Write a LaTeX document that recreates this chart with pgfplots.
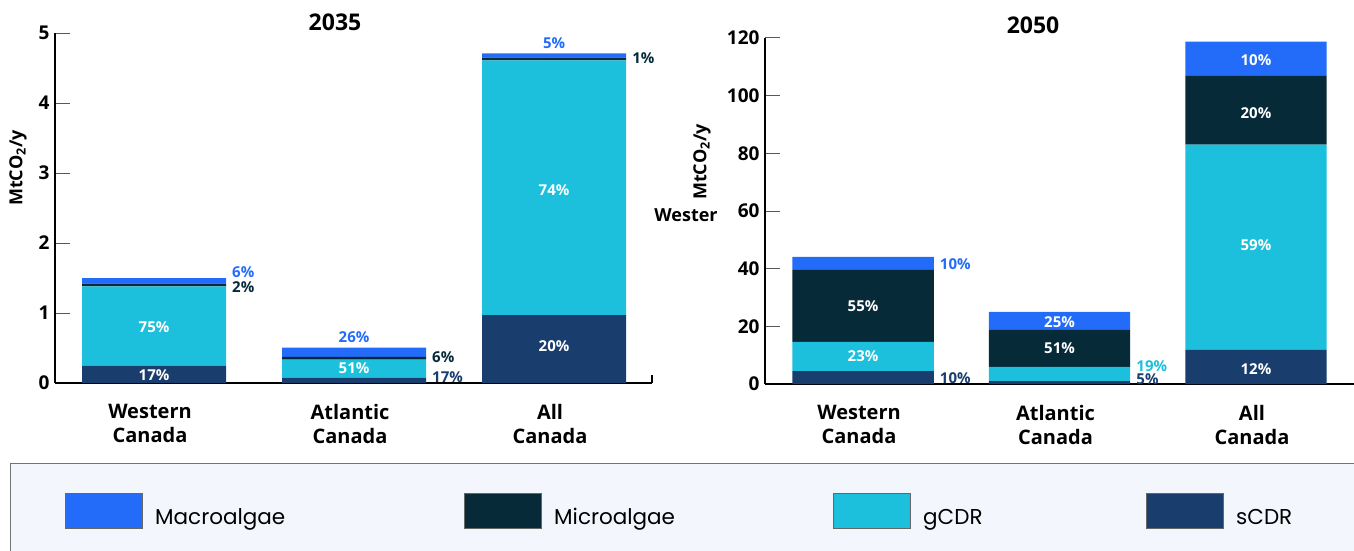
\documentclass[border=0pt]{standalone}
\usepackage{fontspec}
\setmainfont{Open Sans}
\newfontfamily\poppins{Poppins}
\usepackage{pgfplots}
\usepackage{pgfplotstable}
\pgfplotsset{compat=1.18}
\definecolor{macro}{HTML}{236CF9}
\definecolor{micro}{HTML}{062A38}
\definecolor{gcdr}{HTML}{1CBFDC}
\definecolor{scdr}{HTML}{193E6E}
\definecolor{legbg}{HTML}{F3F7FD}

\pgfplotstableread{
x s g mi ma
0 0.25 1.13 0.04 0.08
1 0.076 0.257 0.042 0.129
2 0.97 3.64 0.04 0.06
}\lefttab
\pgfplotstableread{
x s g mi ma
0 4.5 10.1 25.0 4.5
1 1.0 4.9 12.85 6.25
2 11.8 71.2 23.9 11.8
}\righttab

\pgfplotsset{
  mystyle/.style={
    scale only axis, ybar stacked, bar width=0.72,
    axis lines=left, axis line style={-, line width=1.2pt, black},
    ymin=0, clip=false,
    xtick={0,1,2},
    xticklabels={{Western\\Canada},{Atlantic\\Canada},{All\\Canada}},
    x tick style={draw=none},
    y tick style={line width=1pt, black!65},
    tick align=inside, major tick length=15pt,
    /pgf/number format/assume math mode=true,
    yticklabel style={font=\bfseries\fontsize{19}{19}\selectfont, xshift=-2pt},
    xticklabel style={font=\bfseries\fontsize{20}{24}\selectfont, align=center, yshift=-18pt, xshift=-4pt},
  },
}
\tikzset{
  inl/.style={font=\bfseries\fontsize{15}{15}\selectfont, text=white},
  outl/.style={font=\bfseries\fontsize{15}{15}\selectfont, anchor=west, inner sep=1pt, xshift=5pt},
  topl/.style={font=\bfseries\fontsize{15}{15}\selectfont, text=macro},
}

\begin{document}
\begin{tikzpicture}
\useasboundingbox (0,0) rectangle (1354pt,550pt);

% Legend box
\draw[draw=black!55, fill=legbg, line width=1pt] (10pt,-5pt) rectangle (1365pt,87pt);
\foreach \xa/\col/\lab in {65/macro/Macroalgae, 464/micro/Microalgae, 833/gcdr/gCDR, 1146/scdr/sCDR}{
  \draw[fill=\col, draw=black!60, line width=0.8pt] (\xa pt,22pt) rectangle ++(77pt,35pt);
  \node[anchor=base west, inner sep=0pt, font=\poppins\fontsize{21.5}{21.5}\selectfont] at (\xa pt+90pt,26pt) {\lab};
}

% Left chart 2035
\begin{axis}[mystyle, at={(55pt,167pt)}, anchor=south west,
  width=597pt, height=350pt, xmin=-0.495, xmax=2.49, ymax=5, ytick={0,1,2,3,4,5}]
\addplot[fill=scdr, draw=none] table[x=x,y=s]{\lefttab};
\addplot[fill=gcdr, draw=none] table[x=x,y=g]{\lefttab};
\addplot[fill=micro, draw=none] table[x=x,y=mi]{\lefttab};
\addplot[fill=macro, draw=none] table[x=x,y=ma]{\lefttab};
\coordinate (Lend) at (axis cs:2.49,0);
\coordinate (La1) at (axis cs:0,0.11);
\coordinate (La2) at (axis cs:0,0.80);
\coordinate (La3) at (axis cs:0.36,1.59);
\coordinate (La4) at (axis cs:0.36,1.37);
\coordinate (Lb1) at (axis cs:1,0.21);
\coordinate (Lb2) at (axis cs:1.36,0.08);
\coordinate (Lb3) at (axis cs:1.36,0.37);
\coordinate (Lb4) at (axis cs:1,0.66);
\coordinate (Lc1) at (axis cs:2,0.53);
\coordinate (Lc2) at (axis cs:2,2.76);
\coordinate (Lc3) at (axis cs:2.36,4.64);
\coordinate (Lc4) at (axis cs:2,4.86);
\end{axis}
\draw[line width=1.2pt] (Lend) -- ++(0,8pt);
\node[inl] at (La1) {17\%};
\node[inl] at (La2) {75\%};
\node[outl, text=macro] at (La3) {6\%};
\node[outl, text=micro] at (La4) {2\%};
\node[inl] at (Lb1) {51\%};
\node[outl, text=scdr] at (Lb2) {17\%};
\node[outl, text=micro] at (Lb3) {6\%};
\node[topl] at (Lb4) {26\%};
\node[inl] at (Lc1) {20\%};
\node[inl] at (Lc2) {74\%};
\node[outl, text=micro] at (Lc3) {1\%};
\node[topl] at (Lc4) {5\%};
\node[font=\bfseries\fontsize{23}{23}\selectfont] at (335pt,528pt) {2035};
\node[rotate=90, font=\bfseries\fontsize{18}{18}\selectfont] at (18pt,382pt) {MtCO\textsubscript{2}/y};

% Right chart 2050
\begin{axis}[mystyle, at={(765pt,166pt)}, anchor=south west,
  width=589pt, height=346pt, xmin=-0.499, xmax=2.499, ymax=120, ytick={0,20,...,120}]
\addplot[fill=scdr, draw=none] table[x=x,y=s]{\righttab};
\addplot[fill=gcdr, draw=none] table[x=x,y=g]{\righttab};
\addplot[fill=micro, draw=none] table[x=x,y=mi]{\righttab};
\addplot[fill=macro, draw=none] table[x=x,y=ma]{\righttab};
\coordinate (Ra1) at (axis cs:0,9.7);
\coordinate (Ra2) at (axis cs:0,27.0);
\coordinate (Ra3) at (axis cs:0.36,41.6);
\coordinate (Ra4) at (axis cs:0.36,2.1);
\coordinate (Rb1) at (axis cs:1,12.5);
\coordinate (Rb2) at (axis cs:1,21.5);
\coordinate (Rb3) at (axis cs:1.36,6.2);
\coordinate (Rb4) at (axis cs:1.36,1.7);
\coordinate (Rc1) at (axis cs:2,5.2);
\coordinate (Rc2) at (axis cs:2,48.2);
\coordinate (Rc3) at (axis cs:2,94);
\coordinate (Rc4) at (axis cs:2,112.4);
\end{axis}
\node[inl] at (Ra1) {23\%};
\node[inl] at (Ra2) {55\%};
\node[outl, text=macro] at (Ra3) {10\%};
\node[outl, text=scdr] at (Ra4) {10\%};
\node[inl] at (Rb1) {51\%};
\node[inl] at (Rb2) {25\%};
\node[outl, text=gcdr] at (Rb3) {19\%};
\node[outl, text=scdr] at (Rb4) {5\%};
\node[inl] at (Rc1) {12\%};
\node[inl] at (Rc2) {59\%};
\node[inl] at (Rc3) {20\%};
\node[inl] at (Rc4) {10\%};
\node[font=\bfseries\fontsize{23}{23}\selectfont] at (1033pt,525pt) {2050};
\node[rotate=90, font=\bfseries\fontsize{18}{18}\selectfont] at (702pt,388pt) {MtCO\textsubscript{2}/y};
\node[font=\bfseries\fontsize{18}{18}\selectfont] at (686pt,335pt) {Wester};
\end{tikzpicture}
\end{document}
